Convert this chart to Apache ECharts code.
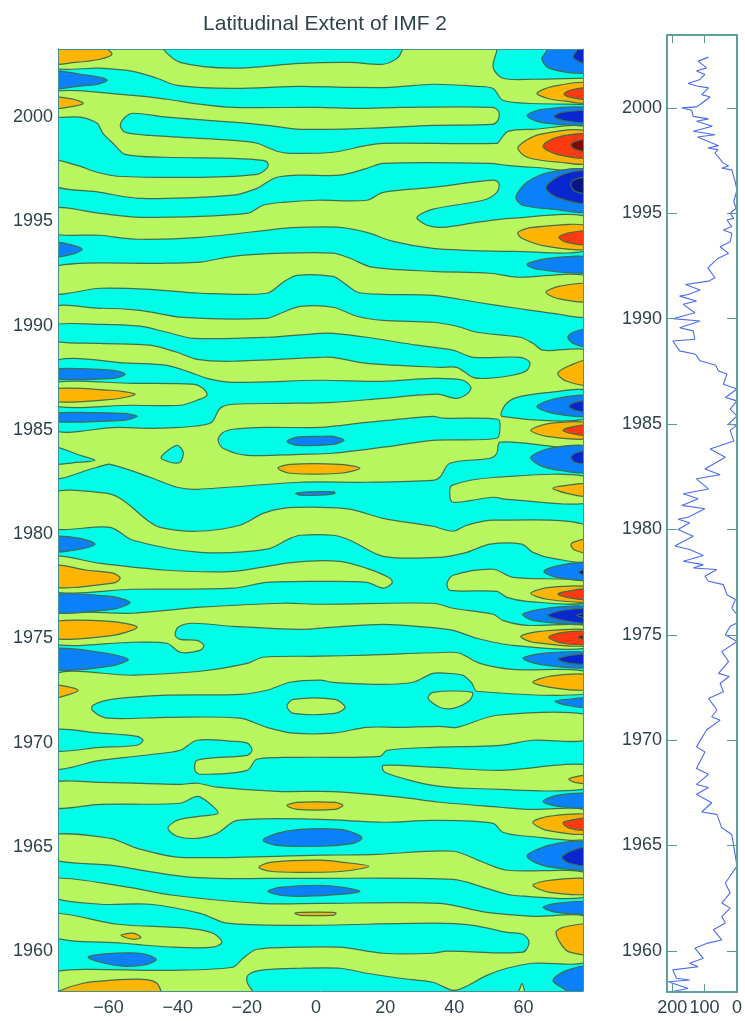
<!DOCTYPE html>
<html><head><meta charset="utf-8">
<style>html,body{margin:0;padding:0;background:#fff}#c{width:745px;height:1021px;filter:blur(0.45px)}</style>
<script src="https://cdn.jsdelivr.net/npm/echarts@6/dist/echarts.min.js"></script>
</head><body><div id="c"></div>
<script>
const titleText = 'Latitudinal Extent of IMF 2';
const latTicks = [-60,-40,-20,0,20,40,60];
const yearTicks = [1960,1965,1970,1975,1980,1985,1990,1995,2000];
const sunspotTicks = [0,100,200];

// contour regions as [latitude, year]
const greenRegions = [
[[-76.9,2004],[79.2,2004],[79.2,2000.61],[77.2,2000.61],[61,2000.66],[54,2000.8],[51.2,2001.37],[46.5,2001.47],[33.8,2001.57],[21.4,2001.42],[9.8,2001.42],[-4.6,2001.47],[-24,2001.37],[-40.2,2001.52],[-46,2001.86],[-52.9,2002.19],[-62.4,2002.34],[-76.9,2002.43]],
[[-76.9,2001.19],[-52.9,2001.04],[-43.1,2000.85],[-33.5,2000.61],[-24,2000.46],[0.3,2000.46],[12.7,2000.41],[24.3,2000.46],[51.2,2000.46],[52.9,2000.23],[52.6,1999.84],[50.9,1999.65],[33.8,1999.6],[14.7,1999.46],[-4.6,1999.41],[-14.2,1999.6],[-24,1999.75],[-43.1,1999.99],[-52.9,2000.18],[-55.2,1999.99],[-56.6,1999.6],[-55.2,1999.27],[-48,1999.12],[-24,1998.88],[-17.1,1998.74],[-11.3,1998.36],[-7.5,1998.26],[4.9,1998.31],[14.7,1998.64],[19.4,1998.74],[52.3,1998.74],[53.2,1998.88],[55.5,1999.31],[62.7,1999.41],[79.2,1999.46],[79.2,1997.54],[62.7,1997.59],[55.2,1997.68],[50.3,1997.78],[19.4,1997.78],[14.7,1997.54],[6.9,1997.21],[-4.6,1997.21],[-11.3,1997.11],[-14.2,1996.87],[-17.1,1996.58],[-24,1996.25],[-50.9,1996.1],[-62.4,1996.39],[-76.9,1996.77],[-76.9,1997.92],[-69.1,1997.68],[-63.3,1997.35],[-57.5,1997.16],[-33.5,1997.11],[-17.1,1997.25],[-14.2,1997.54],[-13.9,1997.78],[-15.3,1997.92],[-24,1998.02],[-43.1,1998.07],[-55.2,1998.21],[-58.7,1998.74],[-61.6,1999.22],[-63.3,1999.7],[-68.2,1999.99],[-76.9,2000.08]],
[[-76.9,1995.62],[-62.4,1995.38],[-50.9,1995.19],[-19.9,1995.38],[-15.3,1995.77],[-9.5,1995.91],[0.3,1996.01],[14.7,1996.01],[19.4,1996.39],[33.8,1996.63],[51.2,1996.97],[52.9,1996.82],[52.3,1996.39],[48.3,1996.01],[33.8,1995.58],[29.2,1995.19],[32.1,1994.81],[36.7,1994.71],[46.5,1994.95],[56.1,1995.14],[79.2,1995.19],[79.2,1993.66],[56.9,1993.56],[43.6,1993.61],[33.8,1993.7],[22.3,1994.04],[14.7,1994.47],[6.9,1994.71],[-4.6,1994.71],[-9.5,1994.66],[-33.5,1994.23],[-51.7,1994.14],[-62.4,1994.33],[-76.9,1994.47]],
[[-76.9,1992.8],[-43.1,1992.99],[-33.5,1993.04],[-24,1993.32],[-9.5,1993.47],[4.9,1993.47],[9.8,1993.23],[16.2,1992.8],[33.8,1992.6],[50.3,1992.51],[58.1,1992.32],[79.2,1992.32],[79.2,1990.49],[68.5,1990.59],[58.1,1990.83],[46.5,1991.12],[33.8,1991.45],[19.4,1991.5],[12.1,1991.6],[7.8,1992.08],[4.9,1992.36],[-5.5,1992.41],[-9.5,1992.08],[-14.2,1991.55],[-33.5,1991.55],[-48,1991.74],[-62.4,1991.79],[-76.9,1991.55]],
[[-76.9,1990.69],[-62.4,1990.83],[-50.9,1990.73],[-38.4,1990.39],[-14.2,1990.35],[-9.5,1990.64],[-4.6,1990.92],[4.9,1990.88],[11.8,1990.45],[19.4,1990.25],[33.8,1990.16],[40.7,1989.97],[46.5,1989.68],[59,1989.44],[62.7,1989.15],[65.6,1988.82],[79.2,1988.67],[79.2,1984.41],[53.2,1984.41],[52.3,1983.88],[50.3,1983.64],[38.7,1983.4],[35.8,1982.73],[33.8,1982.58],[14.7,1982.49],[-4.6,1982.49],[-34.4,1982.15],[-40.2,1982.25],[-48,1982.73],[-59.5,1983.35],[-63.3,1983.21],[-76.9,1982.82]],
[[39.3,1982.34],[52.3,1982.73],[79.2,1982.73],[79.2,1981.53],[55.2,1981.67],[51.2,1981.77],[39.6,1981.53],[38.7,1981.87]],
[[-76.9,1981.96],[-60.4,1981.96],[-55.8,1981.63],[-48.8,1980.67],[-45.1,1980.33],[-34.4,1980.14],[-22,1980.43],[-15.3,1981],[-9.5,1981.24],[1.2,1981.29],[9.8,1981.2],[19.4,1980.76],[33.8,1980.38],[39.6,1980.14],[43.6,1980.43],[51.2,1980.67],[79.2,1980.38],[79.2,1978.75],[68.5,1978.84],[62.7,1979.13],[59.5,1979.52],[50.3,1979.52],[43.6,1979.13],[35.8,1978.89],[19.4,1978.94],[9.8,1979.71],[4.9,1979.95],[-4.6,1979.95],[-7.5,1979.8],[-14.2,1979.28],[-33.5,1979.13],[-52.9,1979.71],[-59.5,1980.33],[-76.9,1980.33]],
[[-76.9,1978.89],[-62.4,1978.6],[-43.1,1978.27],[-24,1978.22],[-6.6,1978.65],[6.9,1978.7],[14.7,1978.36],[21.4,1977.89],[22,1977.65],[19.4,1977.41],[14.7,1977.69],[1.2,1977.74],[-14.2,1977.69],[-24,1977.41],[-52.9,1977.36],[-76.9,1977.31]],
[[37.9,1977.65],[39.6,1978.03],[51.2,1978.32],[56.9,1977.93],[79.2,1977.69],[79.2,1976.73],[61,1976.78],[55.2,1976.97],[52.3,1977.26],[38.7,1977.31]],
[[-76.9,1976.11],[-52.9,1976.21],[-43.1,1976.35],[-33.5,1976.5],[-9.5,1976.69],[1.2,1976.64],[33.8,1976.69],[39.6,1976.45],[51.2,1976.16],[54,1975.87],[61,1975.63],[79.2,1975.58],[79.2,1974.57],[56.9,1974.67],[46.5,1975.01],[39.6,1975.39],[29.2,1975.58],[19.4,1975.68],[4.9,1975.54],[-4.6,1975.44],[-24,1975.58],[-35.5,1975.73],[-39.9,1975.54],[-40.7,1975.15],[-39.3,1974.96],[-34.4,1974.91],[-32.4,1974.67],[-33.5,1974.43],[-39.3,1974.34],[-43.1,1974.77],[-52.9,1974.82],[-76.9,1974.77]],
[[-76.9,1973.14],[-52.9,1973.24],[-33.5,1973.43],[-19.9,1973.81],[-15.3,1974.1],[1.2,1974.15],[14.7,1974.2],[38.7,1974.34],[41.6,1974.29],[47.4,1973.81],[56.9,1973.52],[79.2,1973.38],[79.2,1972.37],[46.5,1972.47],[45.1,1972.85],[42.5,1973.23],[37.9,1973.33],[33.8,1973.33],[28,1972.9],[19.4,1972.8],[4.9,1972.9],[1.2,1973],[-7.5,1972.9],[-14.2,1972.52],[-22,1972.32],[-43.1,1972.28],[-58.7,1972.09],[-64.5,1971.8],[-64.7,1971.56],[-60.4,1971.18],[-43.1,1971.22],[-22,1971.18],[-14.2,1970.74],[-6.6,1970.46],[4.9,1970.46],[14.7,1970.74],[24.3,1970.74],[35.8,1970.79],[40.7,1970.74],[52.3,1971.32],[79.2,1971.32],[79.2,1970.17],[62.7,1970.12],[53.2,1969.88],[33.8,1969.78],[20.5,1969.64],[18.5,1969.35],[-4.6,1969.3],[-17.1,1969.21],[-19.9,1968.68],[-33.5,1968.49],[-35,1968.68],[-34.4,1969.16],[-19.9,1969.4],[-18.5,1969.64],[-19.7,1969.97],[-24,1970.07],[-34.4,1970.12],[-39.3,1969.64],[-47.1,1969.45],[-62.4,1969.16],[-76.9,1968.87]],
[[19.4,1968.92],[33.8,1968.83],[53.2,1968.68],[79.2,1968.92],[79.2,1967.82],[43.6,1967.82],[33.8,1967.96],[27.2,1968.2],[20.5,1968.54],[19.4,1968.68]],
[[-76.9,1968.06],[-62.4,1968.1],[-39.3,1968.01],[-34.4,1968.06],[-28.6,1967.87],[-11.3,1967.67],[1.2,1967.67],[7.8,1967.63],[24.3,1967.39],[35.8,1967.15],[53.2,1966.91],[61,1966.81],[79.2,1966.72],[79.2,1965.42],[61,1965.52],[54,1965.71],[51.2,1966.14],[33.8,1966.28],[19.4,1966.19],[1.2,1966.33],[-22.8,1966.28],[-28.6,1965.66],[-34.4,1965.42],[-40.2,1965.52],[-42.8,1965.9],[-40.2,1966.28],[-33.5,1966.48],[-28.3,1966.62],[-31.2,1967.15],[-34.4,1967.43],[-39.3,1967.1],[-62.4,1967.05],[-76.9,1966.91]],
[[-76.9,1965.56],[-59.5,1965.42],[-51.7,1964.94],[-39.3,1964.51],[1.2,1964.61],[17.6,1964.65],[39.6,1964.8],[48.3,1964.27],[55.2,1963.89],[79.2,1963.74],[79.2,1962.64],[56.9,1962.69],[49.4,1963.02],[39.6,1963.45],[-4.6,1963.5],[-35.5,1963.55],[-59.5,1964.13],[-76.9,1964.46]],
[[-76.9,1963.5],[-55.8,1963.12],[-41.3,1962.69],[-16.2,1962.3],[1.2,1962.3],[35.8,1962.3],[49.4,1961.87],[62.7,1961.68],[79.2,1961.58],[79.2,1959.57],[62.7,1959.43],[55.2,1959.19],[49.4,1958.85],[40.2,1958.13],[33.8,1958.52],[24.3,1958.71],[14.7,1958.95],[6.9,1959.19],[-4.6,1959.19],[-16.2,1959.09],[-19.7,1958.85],[-19.9,1958.52],[-18.2,1957.89],[-76.9,1957.89],[-76.9,1958.99],[-43.1,1959.09],[-24,1959.24],[-21.1,1959.67],[-17.1,1960.1],[-4.6,1960.2],[6.9,1960.2],[19.4,1959.91],[33.8,1959.91],[37.9,1960.01],[59.8,1959.96],[61.6,1960.44],[59.8,1960.82],[55.2,1960.91],[45.4,1961.25],[33.8,1961.35],[-4.6,1961.25],[-25.7,1961.35],[-33.5,1961.82],[-48,1962.26],[-62.4,1962.26],[-76.9,1962.64]]
];
const cyanPockets = [
[[-44.2,2003.25],[-39.3,2002.62],[-24,2002.34],[-4.6,2002.57],[9.8,2002.62],[19.4,2002.53],[23.4,2002.81],[24.9,2003.2],[25.4,2003.68],[-45.1,2003.68]],
[[52.6,2003.68],[52.3,2003.2],[51.2,2002.38],[54,2001.86],[62.7,2001.81],[77.2,2001.86],[79.2,2001.86],[79.2,2003.68]],
[[-76.9,1990.01],[-62.4,1990.06],[-50.9,1989.97],[-43.1,1989.68],[-35.5,1989.39],[-14.2,1989.44],[1.2,1989.63],[4.9,1989.63],[14.7,1989.44],[29.2,1989.06],[39.6,1988.82],[45.4,1988.48],[59,1988.48],[61.8,1988.24],[61,1987.86],[56.9,1987.62],[49.4,1987.47],[45.4,1987.52],[40.7,1988],[35.8,1988],[14.7,1988.19],[4.9,1988.48],[1.2,1988.48],[-24,1988.29],[-34.4,1988.38],[-40.2,1988.72],[-48,1989.06],[-62.4,1989.15],[-76.9,1989.3]],
[[-76.9,1988.19],[-52.9,1988.19],[-43.1,1988.09],[-36.4,1987.76],[-31.5,1987.47],[-24,1987.28],[1.2,1987.38],[19.4,1987.33],[33.8,1987.47],[42.5,1987.38],[44.8,1987.04],[43.9,1986.75],[40.7,1986.51],[35,1986.71],[19.4,1986.51],[4.9,1986.32],[-9.5,1986.27],[-24,1986.23],[-27.7,1986.04],[-30.6,1985.32],[-45.1,1985.08],[-57.5,1985.12],[-76.9,1985.08]],
[[-76.9,1984.21],[-68.2,1983.78],[-63.9,1983.54],[-68.2,1983.45],[-76.9,1983.4]],
[[-44.8,1983.69],[-40.2,1984.26],[-38.4,1983.93],[-39.3,1983.45],[-42.2,1983.45]],
[[1.2,1985.12],[-14.2,1985.12],[-24,1985.03],[-27.2,1984.84],[-28.3,1984.5],[-26.9,1984.12],[-19.9,1983.78],[-4.6,1983.83],[4.9,1983.88],[19.4,1984.17],[33.8,1984.5],[52.3,1984.6],[53.2,1985.12],[52.6,1985.51],[36.7,1985.56],[33.8,1985.65],[14.7,1985.36]],
[[79.2,1986.85],[67.6,1986.8],[58.1,1986.56],[54.6,1986.18],[53.8,1985.65],[79.2,1985.56]],
[[-76.9,1970.6],[-62.4,1970.46],[-51.7,1970.31],[-50,1970.12],[-51.7,1969.88],[-62.4,1969.78],[-76.9,1969.64]]
];
const greenIslands = [
[[-76.9,1987.23],[-52.9,1987.23],[-35.5,1987.19],[-32.7,1987],[-31.5,1986.66],[-34.4,1986.42],[-39.3,1986.18],[-52.9,1986.18],[-76.9,1986.18]],
[[-6.6,1972.08],[5.5,1972.08],[8.4,1971.7],[5.5,1971.41],[-6.6,1971.41],[-8.4,1971.75]],
[[32.4,1972.13],[33.8,1972.42],[45.1,1972.42],[44.5,1972.04],[39.6,1971.65],[35.8,1971.7]],
[[-76.9,1961.82],[-57.5,1961.3],[-37.3,1961.11],[-29.8,1960.87],[-27.2,1960.44],[-29.8,1960.2],[-41.3,1960.2],[-55.8,1960.39],[-76.9,1960.72]],
[[58.1,1957.89],[59,1958.23],[59.5,1958.47],[60.1,1958.23],[60.4,1957.89]]
];
const blueBlobs = [
[[-76.9,2002.19],[-68.2,2002.05],[-62.4,2001.9],[-60.4,2001.76],[-63,2001.57],[-69.1,2001.47],[-76.9,2001.38]],
[[66.8,2003.68],[66.8,2003.2],[65.3,2002.81],[67,2002.38],[72.5,2002.14],[77.2,2002.09],[79.2,2002.05],[79.2,2003.68]],
[[79.2,2000.42],[65.6,2000.37],[61,2000.08],[63.9,1999.79],[70.5,1999.65],[79.2,1999.65]],
[[79.2,1997.4],[67.6,1997.35],[61,1996.87],[57.8,1996.15],[59.8,1995.77],[68.5,1995.58],[79.2,1995.53]],
[[-76.9,1993.99],[-70.2,1993.85],[-67.6,1993.66],[-70.5,1993.42],[-76.9,1993.32]],
[[79.2,1993.27],[67.6,1993.23],[61,1992.94],[63.9,1992.7],[79.2,1992.55]],
[[79.2,1989.82],[74.3,1989.68],[72.8,1989.44],[74.3,1989.15],[79.2,1989.01]],
[[-76.9,1987.91],[-58.7,1987.86],[-55.2,1987.67],[-58.7,1987.47],[-76.9,1987.47]],
[[-76.9,1985.79],[-55.8,1985.79],[-51.7,1985.65],[-55.8,1985.46],[-76.9,1985.41]],
[[-8.4,1984.45],[-5.5,1984.65],[1.2,1984.69],[4.9,1984.69],[8.1,1984.5],[4.9,1984.31],[-5.5,1984.26]],
[[79.2,1986.61],[69.6,1986.51],[63.9,1986.13],[68.5,1985.79],[79.2,1985.7]],
[[79.2,1984.17],[67.6,1984.12],[62.1,1983.68],[64.7,1983.3],[70.5,1983.06],[79.2,1983.01]],
[[-76.9,1979.85],[-68.2,1979.8],[-63.9,1979.52],[-68.2,1979.28],[-76.9,1979.18]],
[[79.2,1978.6],[70.5,1978.51],[65.9,1978.22],[69.6,1977.93],[79.2,1977.84]],
[[-76.9,1977.07],[-59.5,1977.02],[-53.8,1976.73],[-58.7,1976.4],[-76.9,1976.26]],
[[79.2,1976.5],[66.8,1976.45],[59.8,1976.16],[62.7,1975.87],[79.2,1975.73]],
[[-76.9,1974.48],[-62.4,1974.34],[-54.3,1974],[-59.5,1973.67],[-76.9,1973.52]],
[[79.2,1974.29],[65.6,1974.29],[59.8,1974.05],[64.7,1973.76],[79.2,1973.62]],
[[79.2,1972.13],[72.5,1972.08],[69.1,1971.99],[72.5,1971.8],[79.2,1971.7]],
[[79.2,1967.53],[69.6,1967.48],[65.6,1967.19],[69.6,1966.96],[79.2,1966.91]],
[[-15.3,1965.33],[-11.3,1965.66],[-4.6,1965.85],[6.9,1965.85],[11.3,1965.66],[13.3,1965.42],[10.7,1965.18],[1.2,1965.04],[-11.3,1965.08]],
[[79.2,1965.18],[68.5,1965.13],[61,1964.6],[63.9,1964.22],[70.5,1963.98],[79.2,1963.98]],
[[-13.9,1962.88],[-10.4,1963.07],[1.2,1963.17],[7.8,1963.07],[12.7,1962.88],[7.8,1962.74],[-4.6,1962.64],[-10.4,1962.69]],
[[79.2,1962.35],[69.6,1962.3],[65.6,1962.11],[69.6,1961.87],[79.2,1961.82]],
[[-65.9,1959.72],[-62.4,1959.86],[-50.9,1959.91],[-46.2,1959.62],[-48.8,1959.38],[-55.8,1959.29],[-62.4,1959.48]],
[[79.2,1959.24],[72.5,1959.09],[68.5,1958.61],[71.4,1958.23],[74.9,1957.89],[79.2,1957.89]],
[[-5.8,1981.96],[-1.7,1982.03],[5.2,1982.03],[5.5,1981.96],[1.2,1981.87],[-4.6,1981.87]]
];
const darkBlueBlobs = [
[[75.7,2003.68],[75.4,2003.2],[74.3,2002.86],[77.2,2002.57],[79.2,2002.53],[79.2,2003.68]],
[[79.2,2000.27],[71.4,2000.23],[68.8,2000.03],[71.4,1999.84],[79.2,1999.75]],
[[79.2,1997.35],[71.4,1997.25],[66.5,1996.63],[69.6,1996.15],[79.2,1995.91]],
[[79.2,1986.37],[74.9,1986.32],[73.1,1986.13],[74.9,1985.94],[79.2,1985.89]],
[[79.2,1983.97],[74.9,1983.88],[73.7,1983.68],[74.9,1983.45],[79.2,1983.4]],
[[79.2,1976.4],[71.4,1976.35],[67,1976.11],[71.4,1975.87],[79.2,1975.77]],
[[79.2,1974.24],[73.4,1974.19],[69.9,1974],[73.4,1973.81],[79.2,1973.81]],
[[79.2,1964.99],[74.3,1964.85],[71.1,1964.51],[73.4,1964.22],[79.2,1964.13]]
];
const navyBlobs = [
[[79.2,1997.11],[74.3,1996.97],[73.7,1996.73],[74.9,1996.44],[79.2,1996.34]],
[[79.2,1978.36],[76,1978.17],[79.2,1977.98]],
[[79.2,1976.21],[75.4,1976.11],[79.2,1975.97]]
];
const orangeBlobs = [
[[-76.9,2003.44],[-61.6,2003.34],[-59,2003.01],[-62.4,2002.77],[-69.6,2002.62],[-76.9,2002.57]],
[[79.2,2001.62],[68.5,2001.47],[63.9,2001.14],[66.8,2000.9],[72.5,2000.75],[79.2,2000.7]],
[[-76.9,2000.95],[-70.2,2000.85],[-67.3,2000.66],[-70.2,2000.51],[-76.9,2000.41]],
[[79.2,1999.27],[64.7,1999.17],[58.4,1998.55],[61,1998.07],[70.5,1997.83],[79.2,1997.83]],
[[79.2,1994.76],[62.7,1994.71],[58.4,1994.47],[59.5,1994.19],[66.8,1993.8],[79.2,1993.7]],
[[79.2,1991.98],[70.5,1991.89],[66.5,1991.6],[69.6,1991.31],[79.2,1991.17]],
[[79.2,1988.34],[73.4,1988.09],[69.9,1987.71],[72.5,1987.33],[79.2,1987.19]],
[[-76.9,1986.95],[-59.5,1986.9],[-52.3,1986.71],[-58.7,1986.47],[-76.9,1986.37]],
[[79.2,1985.31],[67.6,1985.31],[62.1,1984.98],[66.8,1984.69],[79.2,1984.6]],
[[-11,1983.16],[-7.5,1983.35],[6.9,1983.35],[12.7,1983.16],[6.9,1982.92],[-7.5,1982.92]],
[[79.2,1982.39],[72.5,1982.34],[68.5,1982.2],[72.5,1981.96],[79.2,1981.82]],
[[79.2,1979.76],[74.3,1979.61],[73.7,1979.47],[74.9,1979.23],[79.2,1979.13]],
[[-76.9,1978.51],[-66.2,1978.27],[-58.7,1978.13],[-56.6,1977.89],[-58.7,1977.65],[-76.9,1977.5]],
[[79.2,1977.45],[67.6,1977.45],[62.1,1977.17],[66.8,1976.88],[79.2,1976.78]],
[[-76.9,1975.77],[-59.5,1975.82],[-51.7,1975.54],[-58.7,1975.15],[-76.9,1975.01]],
[[79.2,1975.39],[64.7,1975.34],[59.2,1975.1],[62.7,1974.82],[79.2,1974.67]],
[[-76.9,1972.76],[-68.8,1972.52],[-76.9,1972.13]],
[[79.2,1973.24],[67.6,1973.19],[62.7,1972.9],[67.6,1972.66],[79.2,1972.56]],
[[79.2,1968.44],[74.3,1968.34],[73.1,1968.25],[74.9,1968.1],[79.2,1968.06]],
[[-8.4,1966.99],[-5.5,1967.14],[5.5,1967.14],[7.8,1966.99],[5.5,1966.81],[-5.5,1966.81]],
[[79.2,1966.52],[67.6,1966.48],[62.7,1966.19],[66.8,1965.8],[79.2,1965.66]],
[[-16.5,1964.03],[-13.3,1964.27],[1.2,1964.37],[7.8,1964.27],[15.3,1964.08],[7.8,1963.84],[-4.6,1963.79],[-13.3,1963.84]],
[[79.2,1963.45],[67.6,1963.41],[62.7,1963.17],[67.6,1962.83],[79.2,1962.78]],
[[-6.1,1961.82],[-4.6,1961.87],[4.9,1961.87],[5.8,1961.82],[4.9,1961.73],[-4.6,1961.73]],
[[-56.4,1960.77],[-52.9,1960.87],[-50.6,1960.67],[-52.9,1960.58]],
[[79.2,1961.25],[71.4,1961.15],[69.4,1960.91],[71.1,1960.29],[73.4,1959.96],[79.2,1959.91]],
[[-75.4,1957.89],[-74.6,1958.08],[-67.3,1958.47],[-59.5,1958.61],[-50,1958.66],[-46,1958.47],[-45.1,1957.89]]
];
const redBlobs = [
[[79.2,2001.38],[73.4,2001.28],[71.7,2001.09],[73.4,2000.95],[79.2,2000.85]],
[[79.2,1999.12],[69.6,1999.03],[65.6,1998.6],[69.6,1998.21],[79.2,1998.07]],
[[79.2,1994.52],[72.5,1994.42],[70.2,1994.23],[72.5,1993.99],[79.2,1993.9]],
[[79.2,1985.22],[73.4,1985.12],[71.4,1984.98],[73.4,1984.84],[79.2,1984.74]],
[[79.2,1977.36],[72.5,1977.26],[69.9,1977.12],[72.5,1976.97],[79.2,1976.88]],
[[79.2,1975.29],[71.4,1975.29],[67.3,1975.06],[71.4,1974.77],[79.2,1974.77]],
[[79.2,1966.38],[73.4,1966.28],[71.4,1966.14],[73.4,1965.9],[79.2,1965.85]]
];
const darkRedBlobs = [
[[79.2,1998.93],[74.3,1998.79],[73.7,1998.64],[74.9,1998.45],[79.2,1998.36]],
[[79.2,1975.15],[75.7,1975.06],[79.2,1974.91]]
];

// right panel: [value, year]
const sunspotSeries = [
[88,2002.41],[120,2002.22],[94,2001.9],[125,2001.75],[99,2001.59],[114,2001.35],[151,2001.16],[120,2001.03],[88,2000.95],[109,2000.63],[83,2000.52],[114,2000.16],[125,2000.05],[170,2000],[140,1999.89],[135,1999.6],[88,1999.48],[125,1999.37],[76,1999.13],[135,1998.89],[68,1998.73],[122,1998.62],[57,1998.21],[90,1998.1],[59,1998.02],[68,1997.86],[42,1997.38],[26,1997.25],[47,1997.14],[16,1997.06],[7,1996.59],[0,1996.11],[10,1995.56],[3,1995.24],[21,1995],[10,1994.76],[31,1994.68],[16,1994.37],[42,1994.21],[16,1994.05],[21,1993.65],[52,1993.41],[26,1993.1],[59,1992.86],
[68,1992.73],[90,1992.41],[68,1991.94],[88,1991.78],[159,1991.62],[114,1991.36],[151,1991.15],[177,1991.07],[125,1990.84],[166,1990.68],[130,1990.28],[198,1990],[114,1989.89],[177,1989.57],[135,1989.42],[130,1989.02],[198,1988.94],[177,1988.47],[128,1988.31],[114,1988],[66,1987.79],[57,1987.52],[31,1987.37],[42,1986.89],[0,1986.66],[36,1986.26],[0,1986.1],[21,1985.71],[0,1985.39],[26,1985],[0,1984.95],[21,1984.7],[10,1984.2],[83,1983.82],[36,1983.42],[99,1982.87],[52,1982.59],[125,1982.4],[88,1981.92],[166,1981.69],[120,1981.45],[170,1981.14],[99,1980.98],[151,1980.58],
[182,1980.48],[146,1980.32],[182,1980],[135,1979.68],[192,1979.21],[146,1979.05],[104,1978.76],[166,1978.49],[104,1978.33],[135,1978.17],[62,1978.1],[99,1977.78],[88,1977.54],[42,1977.38],[31,1976.9],[5,1976.67],[16,1976.27],[0,1975.95],[0,1975.56],[21,1975.4],[36,1975],[0,1974.68],[47,1974.2],[26,1973.73],[57,1973.17],[24,1973.02],[52,1972.7],[42,1972.3],[88,1971.98],[62,1971.43],[78,1971.11],[52,1970.95],[94,1970.48],[125,1969.68],[99,1969.44],[125,1968.65],
[88,1968.38],[125,1967.9],[88,1967.75],[125,1967.43],[78,1967.03],[109,1966.59],[62,1966.48],[47,1965.84],[16,1965.52],[10,1964.97],[0,1964.02],[36,1963.22],[21,1962.75],[47,1962.27],[21,1962.03],[47,1961.63],[36,1961.32],[73,1961],[47,1960.52],[90,1960.37],[130,1960.13],[104,1959.65],[146,1959.41],[120,1959.25],[198,1959.1],[187,1958.7],[146,1958.62],[212,1958.54],[151,1958.22],[203,1958.06]
];

const FONT = '"Liberation Sans", Arial, sans-serif';
const textCol = '#2f4448';
const frameCol = '#3f9490';
const contourCol = '#3f6f4c';
const latMin = -74.6, latMax = 77.2, yrMin = 1958.1, yrMax = 2003.26;
const ssMin = 0, ssMax = 216, ssYrMin = 1958.05, ssYrMax = 2003.46;

function contourSeries(polys, fill, z){
  return {
    type:'custom', xAxisIndex:0, yAxisIndex:0, clip:true, silent:true, z, animation:false,
    data: polys.map(p=>p[0]),
    renderItem:(params, api)=>({
      type:'polygon',
      shape:{points: polys[params.dataIndex].map(pt=>api.coord(pt)), smooth:0.3},
      style:{fill, stroke:contourCol, lineWidth:1.2}
    })
  };
}
const hidden = {show:false};
function frameAxis(o){
  return Object.assign({type:'value', splitLine:hidden, axisLabel:hidden, axisTick:hidden,
    axisLine:{show:true, onZero:false, lineStyle:{color:frameCol, width:1}}, z:10}, o);
}
const labelStyle = {color:textCol, fontFamily:FONT, fontSize:18};
const fmtMinus = v => String(v).replace('-', '\u2212');
const fmtPlain = v => String(v);
const rightTick = {show:true, inside:true, length:10, lineStyle:{color:'#5c9a90', width:1}};
const thick = {show:true, onZero:false, lineStyle:{color:'#5f9f9c', width:2}};

const option = {
  animation:false,
  backgroundColor:'#ffffff',
  title:{text:titleText, left:320, top:9, textAlign:'center',
    textStyle:{color:textCol, fontFamily:FONT, fontSize:21, fontWeight:'normal'}},
  grid:[
    {left:58, top:49, width:525, height:942, show:true, backgroundColor:'#00fde8', borderWidth:0},
    {left:667, top:35, width:71.5, height:957, show:false}
  ],
  xAxis:[
    frameAxis({gridIndex:0, position:'bottom', min:latMin, max:latMax,
      axisLabel:{show:true, customValues:latTicks, formatter:fmtMinus, margin:8, ...labelStyle}}),
    frameAxis({gridIndex:0, position:'top', min:latMin, max:latMax}),
    frameAxis({gridIndex:1, position:'bottom', min:ssMin, max:ssMax, inverse:true, axisLine:thick,
      axisTick:{...rightTick, length:8, customValues:[100,200]},
      axisLabel:{show:true, customValues:sunspotTicks, formatter:fmtPlain, margin:7, hideOverlap:false, ...labelStyle}}),
    frameAxis({gridIndex:1, position:'top', min:ssMin, max:ssMax, inverse:true, axisLine:thick,
      axisTick:{...rightTick, length:8, customValues:[100,200]}})
  ],
  yAxis:[
    frameAxis({gridIndex:0, position:'left', min:yrMin, max:yrMax,
      axisLabel:{show:true, customValues:yearTicks, formatter:fmtPlain, margin:5, ...labelStyle}}),
    frameAxis({gridIndex:0, position:'right', min:yrMin, max:yrMax}),
    frameAxis({gridIndex:1, position:'left', min:ssYrMin, max:ssYrMax, axisLine:thick,
      axisTick:{...rightTick, customValues:yearTicks},
      axisLabel:{show:true, customValues:yearTicks, formatter:fmtPlain, margin:5, ...labelStyle}}),
    frameAxis({gridIndex:1, position:'right', min:ssYrMin, max:ssYrMax, axisLine:thick,
      axisTick:{...rightTick, customValues:yearTicks}})
  ],
  series:[
    contourSeries(greenRegions, '#b9f55f', 2),
    contourSeries(cyanPockets, '#00fde8', 3),
    contourSeries(greenIslands, '#b9f55f', 4),
    contourSeries(blueBlobs, '#0a80fa', 5),
    contourSeries(orangeBlobs, '#ffb400', 5),
    contourSeries(darkBlueBlobs, '#0a26cf', 6),
    contourSeries(redBlobs, '#ff3a10', 6),
    contourSeries(navyBlobs, '#071585', 7),
    contourSeries(darkRedBlobs, '#7f0a08', 7),
    {type:'line', xAxisIndex:2, yAxisIndex:2, data:sunspotSeries, showSymbol:false, silent:true, clip:true,
     lineStyle:{color:'#4a6cf0', width:1.1}, z:5}
  ]
};
const chart = echarts.init(document.getElementById('c'), null, {renderer:'canvas'});
chart.setOption(option);
</script></body></html>
